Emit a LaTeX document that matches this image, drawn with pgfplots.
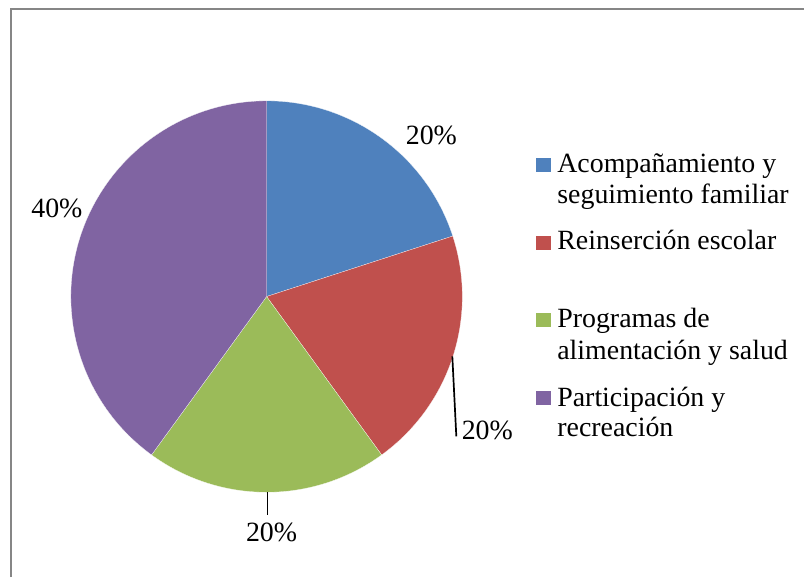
\documentclass[border=0pt]{standalone}
\usepackage{pgfplots}
\pgfplotsset{compat=1.18}
\usepackage{pgfplotstable}
\usepackage{fontspec}
\setmainfont{Liberation Serif}
\definecolor{pieblue}{RGB}{79,129,189}
\definecolor{piered}{RGB}{192,80,77}
\definecolor{piegreen}{RGB}{155,187,89}
\definecolor{piepurple}{RGB}{128,100,162}
\definecolor{framegray}{RGB}{134,134,134}

% share of each programme, clockwise from 12 o'clock
\pgfplotstableread{
value color
20 pieblue
20 piered
20 piegreen
40 piepurple
}\piedata

\newcommand{\lblfont}{\fontsize{28}{31}\selectfont}

\begin{document}
\begin{tikzpicture}
\begin{axis}[
    x=1bp, y=1bp,
    xmin=0, xmax=805, ymin=0, ymax=578,
    hide axis, clip=false,
]
\path (axis cs:0,0) rectangle (axis cs:805,578);
% frame (only left and top edge are visible)
\draw[framegray, line width=2.4bp] (axis cs:11,0) -- (axis cs:11,569) -- (axis cs:805,569);

% wedges
\def\startang{90}
\pgfplotsforeachungrouped \i in {0,...,3}{
    \pgfplotstablegetelem{\i}{value}\of\piedata \let\v\pgfplotsretval
    \pgfplotstablegetelem{\i}{color}\of\piedata \let\c\pgfplotsretval
    \pgfmathsetmacro\endang{\startang-3.6*\v}
    \edef\temp{\noexpand\fill[\c, draw=white, line width=0.2bp] (axis cs:267,281) -- ++(\startang:196bp)
        arc[start angle=\startang, end angle=\endang, radius=196bp] -- cycle;}
    \temp
    \let\startang\endang
}

% data labels
\node[font=\lblfont] at (axis cs:432,442) {20\%};
\node[font=\lblfont] at (axis cs:488,147) {20\%};
\node[font=\lblfont] at (axis cs:272,45) {20\%};
\node[font=\lblfont] at (axis cs:57,369) {40\%};
\draw[black, line width=1.7bp] (axis cs:453,221) -- (axis cs:457,141);
\draw[black, line width=1.7bp] (axis cs:268,85) -- (axis cs:268,62);

% legend
\fill[pieblue]   (axis cs:537,406) rectangle (axis cs:552,420);
\fill[piered]    (axis cs:537,328) rectangle (axis cs:552,342);
\fill[piegreen]  (axis cs:537,251) rectangle (axis cs:552,265);
\fill[piepurple] (axis cs:537,172) rectangle (axis cs:552,186);
\node[font=\lblfont, anchor=base west, inner sep=0pt] at (axis cs:558,405) {Acompañamiento y};
\node[font=\lblfont, anchor=base west, inner sep=0pt] at (axis cs:558,374) {seguimiento familiar};
\node[font=\lblfont, anchor=base west, inner sep=0pt] at (axis cs:558,328) {Reinserción escolar};
\node[font=\lblfont, anchor=base west, inner sep=0pt] at (axis cs:558,250) {Programas de};
\node[font=\lblfont, anchor=base west, inner sep=0pt] at (axis cs:558,218) {alimentación y salud};
\node[font=\lblfont, anchor=base west, inner sep=0pt] at (axis cs:558,171) {Participación y};
\node[font=\lblfont, anchor=base west, inner sep=0pt] at (axis cs:558,141) {recreación};
\end{axis}
\end{tikzpicture}
\end{document}
